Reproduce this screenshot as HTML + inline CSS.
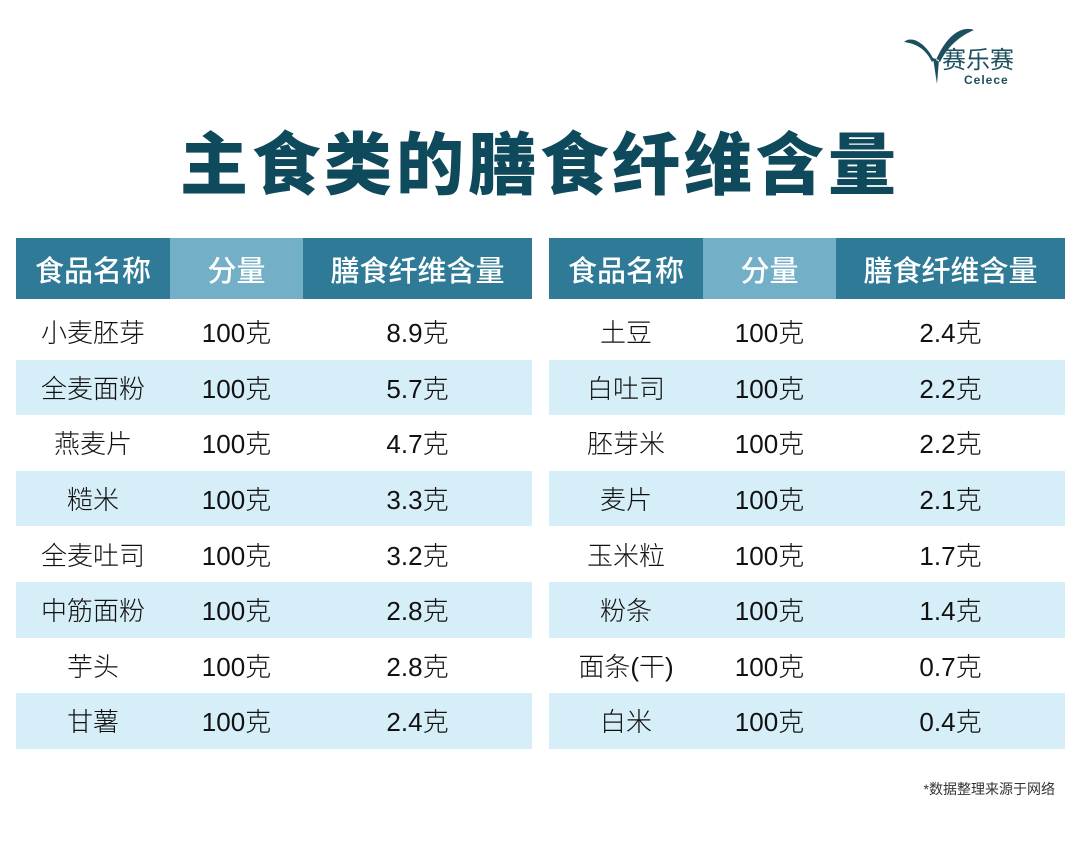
<!DOCTYPE html>
<html><head><meta charset="utf-8"><style>
body{margin:0;width:1080px;height:850px;background:#fff;position:relative;overflow:hidden;font-family:"Liberation Sans","Noto Sans CJK SC",sans-serif;}
.title{position:absolute;top:124px;left:0;width:1080px;text-align:center;font-size:68px;font-weight:900;color:#0f4a5c;letter-spacing:4px;line-height:84px;}
table{position:absolute;top:238px;border-collapse:collapse;}
td,th{padding:0;text-align:center;height:55.6px;font-size:26px;color:#111;font-weight:300;}
th{height:61px;color:#fff;font-weight:500;font-size:29px;background:#2f7b97;}
th.m{background:#74afc8;}
tr.h td{background:#d6eef8;}
.logo{position:absolute;left:900px;top:18px;}
.note{position:absolute;right:25px;top:779px;font-size:14px;color:#333;}
</style></head><body>
<div class="logo"><svg width="140" height="72"><path d="M34 42 C24 22 10 18 4 24 C18 26 26 32 32 44 Z M36 42 C48 14 64 8 74 12 C60 18 48 28 40 44 Z M33 40 L37 66 L39 42 Z" fill="#1c4f5f"/><text x="42" y="50" font-size="24" fill="#1c4f5f" font-family="Noto Sans CJK SC">赛乐赛</text><text x="64" y="66" font-size="12" fill="#1c4f5f" font-weight="bold" letter-spacing="1">Celece</text></svg></div>
<div class="title">主食类的膳食纤维含量</div>
<table style="left:16px;width:516px"><colgroup><col style="width:154px"><col style="width:133px"><col style="width:229px"></colgroup>
<tr><th>食品名称</th><th class="m">分量</th><th>膳食纤维含量</th></tr>
<tr><td colspan="3" style="height:5px"></td></tr>
<tr><td>小麦胚芽</td><td>100克</td><td>8.9克</td></tr>
<tr class="h"><td>全麦面粉</td><td>100克</td><td>5.7克</td></tr>
<tr><td>燕麦片</td><td>100克</td><td>4.7克</td></tr>
<tr class="h"><td>糙米</td><td>100克</td><td>3.3克</td></tr>
<tr><td>全麦吐司</td><td>100克</td><td>3.2克</td></tr>
<tr class="h"><td>中筋面粉</td><td>100克</td><td>2.8克</td></tr>
<tr><td>芋头</td><td>100克</td><td>2.8克</td></tr>
<tr class="h"><td>甘薯</td><td>100克</td><td>2.4克</td></tr>
</table>
<table style="left:549px;width:516px"><colgroup><col style="width:154px"><col style="width:133px"><col style="width:229px"></colgroup>
<tr><th>食品名称</th><th class="m">分量</th><th>膳食纤维含量</th></tr>
<tr><td colspan="3" style="height:5px"></td></tr>
<tr><td>土豆</td><td>100克</td><td>2.4克</td></tr>
<tr class="h"><td>白吐司</td><td>100克</td><td>2.2克</td></tr>
<tr><td>胚芽米</td><td>100克</td><td>2.2克</td></tr>
<tr class="h"><td>麦片</td><td>100克</td><td>2.1克</td></tr>
<tr><td>玉米粒</td><td>100克</td><td>1.7克</td></tr>
<tr class="h"><td>粉条</td><td>100克</td><td>1.4克</td></tr>
<tr><td>面条(干)</td><td>100克</td><td>0.7克</td></tr>
<tr class="h"><td>白米</td><td>100克</td><td>0.4克</td></tr>
</table>
<div class="note">*数据整理来源于网络</div>
</body></html>
